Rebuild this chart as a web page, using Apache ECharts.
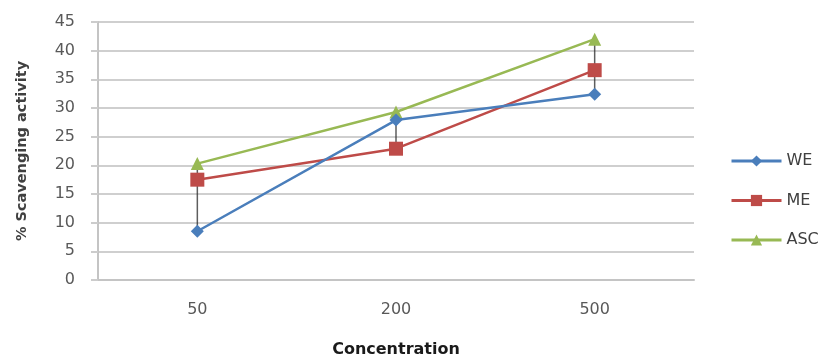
<!DOCTYPE html>
<html>
<head>
<meta charset="utf-8">
<script src="https://cdn.jsdelivr.net/npm/echarts@6/dist/echarts.min.js"></script>
<style>
  html, body { margin: 0; padding: 0; background: #fff; }
  #chart { width: 821px; height: 363px; }
</style>
</head>
<body>
<div id="chart"></div>
<script>
// Concentration levels and % scavenging activity per extract
const categories = ['50', '200', '500'];
const weValues = [8.5, 27.9, 32.4];
const meValues = [17.5, 22.9, 36.6];
const ascValues = [20.3, 29.3, 42.0];
const yTicks = { min: 0, max: 45, interval: 5 };

const FONT = '"DejaVu Sans", "Liberation Sans", sans-serif';

// High-low range at each concentration, spanning all three series
const ranges = categories.map((c, i) => {
  const vals = [weValues[i], meValues[i], ascValues[i]];
  return [i, Math.min(...vals), Math.max(...vals)];
});

const chart = echarts.init(document.getElementById('chart'), null, { renderer: 'canvas' });

chart.setOption({
  animation: false,
  backgroundColor: '#ffffff',
  grid: { left: 98, right: 127, top: 22, bottom: 79 },
  legend: {
    orient: 'vertical',
    left: 725,
    top: 148,
    itemWidth: 50,
    itemHeight: 14,
    itemGap: 23.5,
    lineStyle: { width: 3 },
    textStyle: { fontFamily: FONT, fontSize: 16, lineHeight: 14, color: '#404040', padding: [0, 0, 0, 0] },
    data: ['WE', 'ME', 'ASC']
  },
  xAxis: {
    type: 'category',
    data: categories,
    boundaryGap: true,
    name: 'Concentration',
    nameLocation: 'middle',
    nameGap: 62,
    nameTextStyle: { fontFamily: FONT, fontSize: 16, fontWeight: 'bold', color: '#1a1a1a', verticalAlign: 'top' },
    axisLine: { lineStyle: { color: '#c4c4c4', width: 2 } },
    axisTick: { show: false },
    axisLabel: { fontFamily: FONT, fontSize: 16, color: '#595959', margin: 22 },
    splitLine: { show: false }
  },
  yAxis: {
    type: 'value',
    min: yTicks.min,
    max: yTicks.max,
    interval: yTicks.interval,
    name: '% Scavenging activity',
    nameLocation: 'middle',
    nameRotate: 90,
    nameGap: 68,
    nameTextStyle: { fontFamily: FONT, fontSize: 14.5, fontWeight: 'bold', color: '#404040' },
    axisLine: { show: true, lineStyle: { color: '#c4c4c4', width: 2 } },
    axisTick: { show: true, length: 7, lineStyle: { color: '#cccccc', width: 2 } },
    axisLabel: { fontFamily: FONT, fontSize: 16, color: '#595959', margin: 23 },
    splitLine: { show: true, lineStyle: { color: '#cfcfcf', width: 2 } }
  },
  series: [
    {
      name: 'HighLow',
      type: 'custom',
      data: ranges,
      z: 1,
      silent: true,
      renderItem: function (params, api) {
        const top = api.coord([api.value(0), api.value(2)]);
        const bottom = api.coord([api.value(0), api.value(1)]);
        return {
          type: 'line',
          shape: { x1: top[0], y1: top[1], x2: bottom[0], y2: bottom[1] },
          style: { stroke: 'rgba(40,40,40,0.75)', lineWidth: 1.5 }
        };
      }
    },
    {
      name: 'WE',
      type: 'line',
      data: weValues,
      z: 3,
      color: '#4a7ebb',
      symbol: 'diamond',
      symbolSize: 13,
      lineStyle: { width: 2.5, color: '#4a7ebb' },
      itemStyle: { color: '#4a7ebb' }
    },
    {
      name: 'ME',
      type: 'line',
      data: meValues,
      z: 2,
      color: '#be4b48',
      symbol: 'rect',
      symbolSize: 14,
      lineStyle: { width: 2.5, color: '#be4b48' },
      itemStyle: { color: '#be4b48' }
    },
    {
      name: 'ASC',
      type: 'line',
      data: ascValues,
      z: 2,
      color: '#98b954',
      symbol: 'triangle',
      symbolSize: 13,
      lineStyle: { width: 2.5, color: '#98b954' },
      itemStyle: { color: '#98b954' }
    }
  ]
});
</script>
</body>
</html>
